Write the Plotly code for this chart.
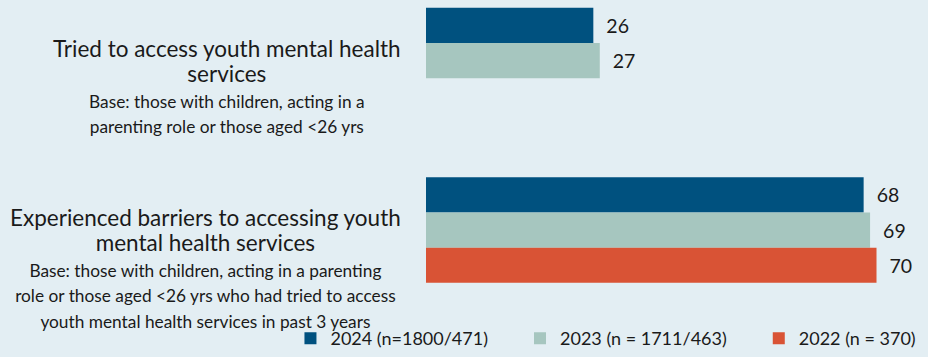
import plotly.graph_objects as go

# data
categories = ["Tried to access youth mental health services",
              "Experienced barriers to accessing youth mental health services"]
label_lines = [["Tried to access youth mental health", "services"],
               ["Experienced barriers to accessing youth", "mental health services"]]
base_lines = [["Base: those with children, acting in a",
               "parenting role or those aged &lt;26 yrs"],
              ["Base: those with children, acting in a parenting",
               "role or those aged &lt;26 yrs who had tried to access",
               "youth mental health services in past 3 years"]]
series_names = ["2024 (n=1800/471)", "2023 (n = 1711/463)", "2022 (n = 370)"]
values_2024 = [26, 68]
values_2023 = [27, 69]
values_2022 = [None, 70]

colors = ["#00517f", "#a6c6bf", "#d95335"]
bg = "#e3eef3"
font = "Lato"
txt = "#1a1a1a"

fig = go.Figure()
all_values = [values_2024, values_2023, values_2022]
for i, (name, vals, col) in enumerate(zip(series_names, all_values, colors)):
    # pad legend entries so they spread like the original
    pad = "\u2003\u2003" if i < len(series_names) - 1 else ""
    fig.add_trace(go.Bar(
        y=categories, x=vals, name=name + pad, orientation="h",
        marker=dict(color=col, line=dict(width=0)),
        texttemplate="\u00a0\u00a0%{x}", textposition="outside",
        textfont=dict(size=19.5, color=txt, family=font),
        cliponaxis=False,
    ))

# category labels: main text + base description in one centred block
for cat, main, base in zip(categories, label_lines, base_lines):
    parts = [f"<span style='font-size:22.5px'>{l}</span>" for l in main]
    parts += [f"<span style='font-size:17.3px'>{l}</span>" for l in base]
    fig.add_annotation(
        x=0, xref="paper", y=cat, yref="y",
        xanchor="right", yanchor="top", xshift=-23, yshift=28,
        text="<br>".join(parts), showarrow=False, align="center",
        font=dict(size=19.6, color=txt, family=font),
    )

fig.update_layout(
    width=928, height=357,
    margin=dict(l=426, r=0, t=0, b=27),
    paper_bgcolor=bg, plot_bgcolor=bg,
    barmode="group", bargap=0.376, bargroupgap=0,
    font=dict(family=font, color=txt),
    showlegend=True,
    legend=dict(orientation="h", x=-0.27, xanchor="left", y=-0.048, yanchor="middle",
                font=dict(size=18, color=txt, family=font),
                bgcolor="rgba(0,0,0,0)", itemclick=False),
)
fig.update_xaxes(range=[0, 78], visible=False, showgrid=False, zeroline=False)
fig.update_yaxes(range=[1.549, -0.358], showticklabels=False, showgrid=False,
                 zeroline=False, showline=False, ticks="")

fig.write_html("out.html", config={"displayModeBar": False},
               post_script="document.body.style.margin='0';")
